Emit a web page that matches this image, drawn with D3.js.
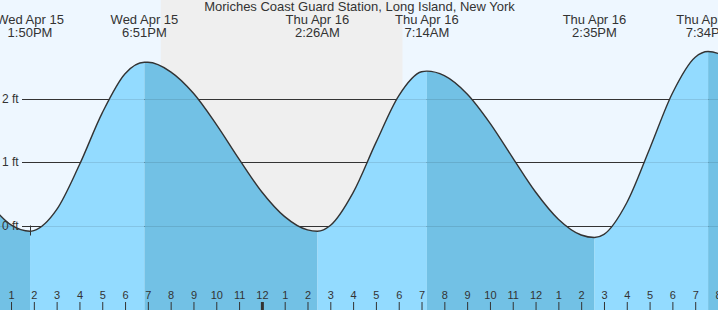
<!DOCTYPE html>
<html><head><meta charset="utf-8">
<script src="https://cdn.jsdelivr.net/npm/d3@7"></script>
<style>
body{margin:0;background:#fff;}
svg{display:block;font-family:"Liberation Sans",Arial,sans-serif;}
</style></head>
<body><svg id="c" width="718" height="310"></svg>
<script>
// ---- data ----
const title = "Moriches Coast Guard Station, Long Island, New York";
const viewStart = "2026-04-15 12:31";
const viewEnd = "2026-04-16 20:00";
const nightStart = "2026-04-15 19:34";
const nightEnd = "2026-04-16 06:10";
const markerTime = "2026-04-15 13:50";

const readingTimes = [
  "2026-04-15 12:00","2026-04-15 13:00","2026-04-15 14:00","2026-04-15 15:00",
  "2026-04-15 16:00","2026-04-15 17:00","2026-04-15 18:00","2026-04-15 19:00",
  "2026-04-15 20:00","2026-04-15 21:00","2026-04-15 22:00","2026-04-15 23:00",
  "2026-04-16 00:00","2026-04-16 01:00","2026-04-16 02:00","2026-04-16 03:00",
  "2026-04-16 04:00","2026-04-16 05:00","2026-04-16 06:00","2026-04-16 07:00",
  "2026-04-16 08:00","2026-04-16 09:00","2026-04-16 10:00","2026-04-16 11:00",
  "2026-04-16 12:00","2026-04-16 13:00","2026-04-16 14:00","2026-04-16 15:00",
  "2026-04-16 16:00","2026-04-16 17:00","2026-04-16 18:00","2026-04-16 19:00",
  "2026-04-16 20:00","2026-04-16 21:00"
];
const readingHeights = [
  0.37, 0.01, -0.08, 0.25,
  0.96, 1.78, 2.40, 2.58,
  2.43, 2.09, 1.60, 1.05,
  0.53, 0.14, -0.07, 0.00,
  0.52, 1.31, 2.05, 2.43,
  2.37, 2.08, 1.62, 1.07,
  0.53, 0.10, -0.15, -0.14,
  0.36, 1.21, 2.09, 2.66,
  2.72, 2.43
];

const extremeTimes = ["2026-04-15 13:50","2026-04-15 18:51","2026-04-16 02:26","2026-04-16 07:14","2026-04-16 14:35","2026-04-16 19:34"];
const extremeHeights = [-0.09, 2.58, -0.09, 2.44, -0.19, 2.75];
const extremeTypes = ["L","H","L","H","L","H"];
const extremeDates = ["Wed Apr 15","Wed Apr 15","Thu Apr 16","Thu Apr 16","Thu Apr 16","Thu Apr 16"];
const extremeClock = ["1:50PM","6:51PM","2:26AM","7:14AM","2:35PM","7:34PM"];

const gridFeet = [0, 1, 2];
const gridLabels = ["0 ft", "1 ft", "2 ft"];

// ---- setup ----
const W = 718, H = 310;
const parse = d3.timeParse("%Y-%m-%d %H:%M");
const svg = d3.select("#c");

const x = d3.scaleTime().domain([parse(viewStart), parse(viewEnd)]).range([0, W]);
const y = d3.scaleLinear().domain([0, 2]).range([225.5, 99]);

const series = readingTimes.map((t, i) => ({t: parse(t), h: readingHeights[i]}))
  .concat(extremeTimes.map((t, i) => ({t: parse(t), h: extremeHeights[i]})))
  .sort((a, b) => a.t - b.t);

const colDay = "#eef7ff", colNight = "#efefef";
const colRise = "#93dbff", colFall = "#72c1e5";
const ink = "#333";

// background
svg.append("rect").attr("width", W).attr("height", H).attr("fill", colDay);
svg.append("rect")
  .attr("x", x(parse(nightStart))).attr("y", 0)
  .attr("width", x(parse(nightEnd)) - x(parse(nightStart))).attr("height", H)
  .attr("fill", colNight);

// dark grid lines (sky part)
svg.append("g").selectAll("line").data(gridFeet).join("line")
  .attr("x1", 22).attr("x2", W)
  .attr("y1", d => Math.round(y(d)) + 0.5).attr("y2", d => Math.round(y(d)) + 0.5)
  .attr("stroke", ink).attr("stroke-width", 1);

// water
const area = d3.area().x(d => x(d.t)).y0(H).y1(d => y(d.h)).curve(d3.curveMonotoneX);
const line = d3.line().x(d => x(d.t)).y(d => y(d.h)).curve(d3.curveMonotoneX);

svg.append("clipPath").attr("id", "water").append("path").attr("d", area(series));

const bounds = [parse(viewStart)].concat(extremeTimes.map(parse)).concat([parse(viewEnd)]);
const segs = [];
for (let i = 0; i < bounds.length - 1; i++) {
  // segment ending at a high is rising; ending at a low is falling
  const endType = i < extremeTypes.length ? extremeTypes[i] : (extremeTypes[extremeTypes.length - 1] === "H" ? "L" : "H");
  segs.push({a: bounds[i], b: bounds[i + 1], rising: endType === "H"});
}
const wg = svg.append("g").attr("clip-path", "url(#water)");
wg.selectAll("rect").data(segs).join("rect")
  .attr("x", d => x(d.a)).attr("width", d => x(d.b) - x(d.a))
  .attr("y", 0).attr("height", H)
  .attr("fill", d => d.rising ? colRise : colFall);
// faint grid lines inside water
wg.append("g").selectAll("line").data(gridFeet).join("line")
  .attr("x1", 0).attr("x2", W)
  .attr("y1", d => Math.round(y(d)) + 0.5).attr("y2", d => Math.round(y(d)) + 0.5)
  .attr("stroke", "#000").attr("stroke-opacity", 0.1).attr("stroke-width", 1);

// tide curve
svg.append("path").attr("d", line(series))
  .attr("fill", "none").attr("stroke", ink).attr("stroke-width", 1.4);

// marker
svg.append("line")
  .attr("x1", Math.round(x(parse(markerTime))) + 0.5).attr("x2", Math.round(x(parse(markerTime))) + 0.5)
  .attr("y1", y(0)).attr("y2", y(0) + 10)
  .attr("stroke", ink).attr("stroke-width", 1);

// y labels
svg.append("g").selectAll("text").data(gridFeet).join("text")
  .attr("x", 2).attr("y", d => y(d) + 4)
  .attr("font-size", 12).attr("fill", ink)
  .text((d, i) => gridLabels[i]);

// bottom hour axis
const axis = d3.axisTop(x)
  .ticks(d3.timeHour.every(1))
  .tickFormat(d3.timeFormat("%-I"))
  .tickSize(8).tickPadding(3);
const ag = svg.append("g").attr("transform", `translate(0,${H})`).call(axis);
ag.select(".domain").remove();
ag.selectAll(".tick line").attr("stroke", ink)
  .attr("stroke-width", d => d.getHours() === 0 ? 3 : 1);
ag.selectAll(".tick text").attr("fill", ink).attr("font-size", 11)
  .attr("font-family", '"Liberation Sans",Arial,sans-serif');

// title
svg.append("text").attr("x", 359.5).attr("y", 11)
  .attr("text-anchor", "middle").attr("font-size", 13).attr("fill", ink)
  .text(title);

// extreme labels
const lg = svg.append("g").selectAll("g").data(extremeTimes).join("g")
  .attr("transform", d => `translate(${x(parse(d))},0)`);
lg.append("text").attr("y", 24).attr("text-anchor", "middle").attr("font-size", 13).attr("fill", ink)
  .text((d, i) => extremeDates[i]);
lg.append("text").attr("y", 37).attr("text-anchor", "middle").attr("font-size", 13).attr("fill", ink)
  .text((d, i) => extremeClock[i]);
</script></body></html>
